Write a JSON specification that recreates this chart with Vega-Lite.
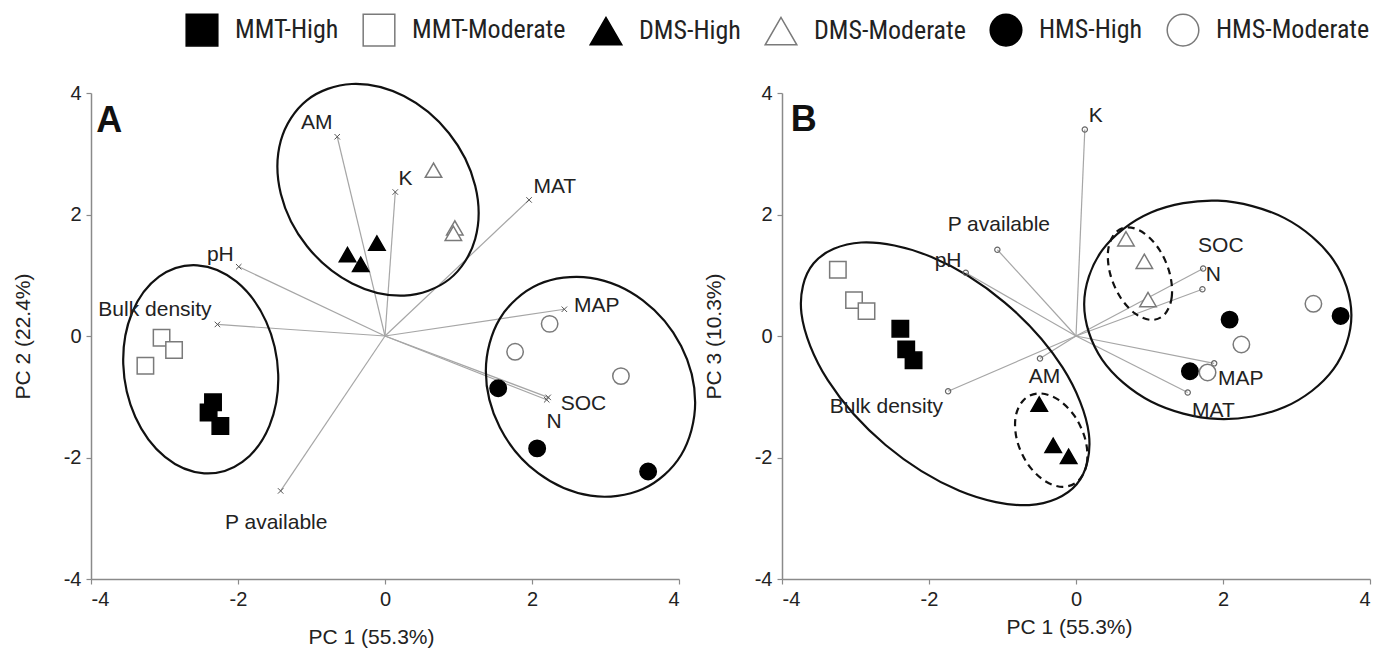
{
  "$schema": "https://vega.github.io/schema/vega-lite/v6.json",
  "background": "white",
  "padding": {"left": 12, "top": 13, "right": 5, "bottom": 5},
  "config": {
    "view": {"stroke": null},
    "font": "Liberation Sans",
    "axis": {
      "grid": false, "domainColor": "#8a8a8a", "domainWidth": 1.5, "tickColor": "#8a8a8a", "tickWidth": 1.2, "tickSize": 5,
      "labelFontSize": 20, "labelColor": "#222222", "labelPadding": 5, "labelFont": "Liberation Sans",
      "labelExpr": "toString(datum.value)",
      "titleFontSize": 21, "titleColor": "#222222", "titleFontWeight": "normal", "titleFont": "Liberation Sans"
    },
    "legend": {
      "orient": "none", "legendX": 94, "legendY": -80, "direction": "horizontal", "columns": 6,
      "symbolSize": 1000, "symbolStrokeWidth": 1.5, "labelFont": "Roboto Condensed", "labelFontSize": 26,
      "labelColor": "#222222", "labelOffset": 16, "columnPadding": 21, "labelLimit": 400
    }
  },
  "datasets": {
    "points": [
      {"panel":"A","group":"MMT-High","x":-2.34,"y":-1.09},
      {"panel":"A","group":"MMT-High","x":-2.40,"y":-1.26},
      {"panel":"A","group":"MMT-High","x":-2.24,"y":-1.48},
      {"panel":"A","group":"MMT-Moderate","x":-3.04,"y":-0.03},
      {"panel":"A","group":"MMT-Moderate","x":-2.87,"y":-0.23},
      {"panel":"A","group":"MMT-Moderate","x":-3.26,"y":-0.49},
      {"panel":"A","group":"DMS-High","x":-0.51,"y":1.34},
      {"panel":"A","group":"DMS-High","x":-0.33,"y":1.18},
      {"panel":"A","group":"DMS-High","x":-0.11,"y":1.53},
      {"panel":"A","group":"DMS-Moderate","x":0.66,"y":2.73},
      {"panel":"A","group":"DMS-Moderate","x":0.95,"y":1.78},
      {"panel":"A","group":"DMS-Moderate","x":0.93,"y":1.69},
      {"panel":"A","group":"HMS-High","x":1.54,"y":-0.86},
      {"panel":"A","group":"HMS-High","x":2.07,"y":-1.85},
      {"panel":"A","group":"HMS-High","x":3.58,"y":-2.23},
      {"panel":"A","group":"HMS-Moderate","x":2.24,"y":0.20},
      {"panel":"A","group":"HMS-Moderate","x":1.77,"y":-0.26},
      {"panel":"A","group":"HMS-Moderate","x":3.21,"y":-0.66},
      {"panel":"B","group":"MMT-High","x":-2.39,"y":0.12},
      {"panel":"B","group":"MMT-High","x":-2.31,"y":-0.22},
      {"panel":"B","group":"MMT-High","x":-2.21,"y":-0.40},
      {"panel":"B","group":"MMT-Moderate","x":-3.24,"y":1.09},
      {"panel":"B","group":"MMT-Moderate","x":-3.02,"y":0.59},
      {"panel":"B","group":"MMT-Moderate","x":-2.85,"y":0.41},
      {"panel":"B","group":"DMS-High","x":-0.50,"y":-1.12},
      {"panel":"B","group":"DMS-High","x":-0.31,"y":-1.80},
      {"panel":"B","group":"DMS-High","x":-0.10,"y":-1.98},
      {"panel":"B","group":"DMS-Moderate","x":0.68,"y":1.60},
      {"panel":"B","group":"DMS-Moderate","x":0.93,"y":1.23},
      {"panel":"B","group":"DMS-Moderate","x":0.98,"y":0.60},
      {"panel":"B","group":"HMS-High","x":2.09,"y":0.27},
      {"panel":"B","group":"HMS-High","x":3.60,"y":0.33},
      {"panel":"B","group":"HMS-High","x":1.55,"y":-0.58},
      {"panel":"B","group":"HMS-Moderate","x":3.23,"y":0.53},
      {"panel":"B","group":"HMS-Moderate","x":2.25,"y":-0.14},
      {"panel":"B","group":"HMS-Moderate","x":1.79,"y":-0.60}
    ],
    "vectors": [
      {"panel":"A","var":"AM","x":-0.65,"y":3.28},
      {"panel":"A","var":"K","x":0.14,"y":2.37},
      {"panel":"A","var":"MAT","x":1.96,"y":2.24},
      {"panel":"A","var":"MAP","x":2.44,"y":0.44},
      {"panel":"A","var":"SOC","x":2.22,"y":-1.01},
      {"panel":"A","var":"N","x":2.20,"y":-1.05},
      {"panel":"A","var":"P available","x":-1.42,"y":-2.55},
      {"panel":"A","var":"Bulk density","x":-2.28,"y":0.19},
      {"panel":"A","var":"pH","x":-1.99,"y":1.14},
      {"panel":"B","var":"K","x":0.12,"y":3.40},
      {"panel":"B","var":"P available","x":-1.07,"y":1.42},
      {"panel":"B","var":"pH","x":-1.50,"y":1.04},
      {"panel":"B","var":"AM","x":-0.49,"y":-0.37},
      {"panel":"B","var":"Bulk density","x":-1.74,"y":-0.91},
      {"panel":"B","var":"N","x":1.73,"y":1.11},
      {"panel":"B","var":"SOC","x":1.72,"y":0.77},
      {"panel":"B","var":"MAP","x":1.88,"y":-0.45},
      {"panel":"B","var":"MAT","x":1.52,"y":-0.93}
    ],
    "labels": [
      {"panel":"A","kind":"var","text":"AM","x":-0.93,"y":3.40},
      {"panel":"A","kind":"var","text":"K","x":0.28,"y":2.49},
      {"panel":"A","kind":"var","text":"pH","x":-2.24,"y":1.23},
      {"panel":"A","kind":"var","text":"Bulk density","x":-3.13,"y":0.33},
      {"panel":"A","kind":"var","text":"MAT","x":2.31,"y":2.36},
      {"panel":"A","kind":"var","text":"MAP","x":2.88,"y":0.40},
      {"panel":"A","kind":"var","text":"SOC","x":2.70,"y":-1.22},
      {"panel":"A","kind":"var","text":"N","x":2.30,"y":-1.52},
      {"panel":"A","kind":"var","text":"P available","x":-1.48,"y":-3.17},
      {"panel":"A","kind":"letter","text":"A","x":-3.93,"y":3.35},
      {"panel":"B","kind":"var","text":"K","x":0.27,"y":3.52},
      {"panel":"B","kind":"var","text":"P available","x":-1.05,"y":1.73},
      {"panel":"B","kind":"var","text":"pH","x":-1.74,"y":1.13},
      {"panel":"B","kind":"var","text":"AM","x":-0.43,"y":-0.77},
      {"panel":"B","kind":"var","text":"Bulk density","x":-2.58,"y":-1.27},
      {"panel":"B","kind":"var","text":"SOC","x":1.97,"y":1.39},
      {"panel":"B","kind":"var","text":"N","x":1.87,"y":0.91},
      {"panel":"B","kind":"var","text":"MAP","x":2.24,"y":-0.81},
      {"panel":"B","kind":"var","text":"MAT","x":1.87,"y":-1.33},
      {"panel":"B","kind":"letter","text":"B","x":-3.88,"y":3.37}
    ],
    "ellipses": [
      {"panel":"A","id":"A1","kind":"solid","i":0,"x":-1.453,"y":-0.630},
      {"panel":"A","id":"A1","kind":"solid","i":1,"x":-1.571,"y":-1.475},
      {"panel":"A","id":"A1","kind":"solid","i":2,"x":-1.940,"y":-2.072},
      {"panel":"A","id":"A1","kind":"solid","i":3,"x":-2.461,"y":-2.260},
      {"panel":"A","id":"A1","kind":"solid","i":4,"x":-2.994,"y":-1.990},
      {"panel":"A","id":"A1","kind":"solid","i":5,"x":-3.397,"y":-1.333},
      {"panel":"A","id":"A1","kind":"solid","i":6,"x":-3.561,"y":-0.466},
      {"panel":"A","id":"A1","kind":"solid","i":7,"x":-3.443,"y":0.379},
      {"panel":"A","id":"A1","kind":"solid","i":8,"x":-3.074,"y":0.976},
      {"panel":"A","id":"A1","kind":"solid","i":9,"x":-2.553,"y":1.164},
      {"panel":"A","id":"A1","kind":"solid","i":10,"x":-2.020,"y":0.894},
      {"panel":"A","id":"A1","kind":"solid","i":11,"x":-1.617,"y":0.237},
      {"panel":"A","id":"A2","kind":"solid","i":0,"x":0.874,"y":0.934},
      {"panel":"A","id":"A2","kind":"solid","i":1,"x":0.261,"y":0.666},
      {"panel":"A","id":"A2","kind":"solid","i":2,"x":-0.447,"y":0.865},
      {"panel":"A","id":"A2","kind":"solid","i":3,"x":-1.061,"y":1.477},
      {"panel":"A","id":"A2","kind":"solid","i":4,"x":-1.417,"y":2.339},
      {"panel":"A","id":"A2","kind":"solid","i":5,"x":-1.417,"y":3.218},
      {"panel":"A","id":"A2","kind":"solid","i":6,"x":-1.064,"y":3.880},
      {"panel":"A","id":"A2","kind":"solid","i":7,"x":-0.451,"y":4.148},
      {"panel":"A","id":"A2","kind":"solid","i":8,"x":0.257,"y":3.949},
      {"panel":"A","id":"A2","kind":"solid","i":9,"x":0.871,"y":3.337},
      {"panel":"A","id":"A2","kind":"solid","i":10,"x":1.227,"y":2.475},
      {"panel":"A","id":"A2","kind":"solid","i":11,"x":1.227,"y":1.596},
      {"panel":"A","id":"A3","kind":"solid","i":0,"x":4.220,"y":-1.096},
      {"panel":"A","id":"A3","kind":"solid","i":1,"x":4.029,"y":-1.958},
      {"panel":"A","id":"A3","kind":"solid","i":2,"x":3.508,"y":-2.519},
      {"panel":"A","id":"A3","kind":"solid","i":3,"x":2.796,"y":-2.629},
      {"panel":"A","id":"A3","kind":"solid","i":4,"x":2.084,"y":-2.259},
      {"panel":"A","id":"A3","kind":"solid","i":5,"x":1.563,"y":-1.508},
      {"panel":"A","id":"A3","kind":"solid","i":6,"x":1.372,"y":-0.576},
      {"panel":"A","id":"A3","kind":"solid","i":7,"x":1.563,"y":0.286},
      {"panel":"A","id":"A3","kind":"solid","i":8,"x":2.084,"y":0.847},
      {"panel":"A","id":"A3","kind":"solid","i":9,"x":2.796,"y":0.957},
      {"panel":"A","id":"A3","kind":"solid","i":10,"x":3.508,"y":0.587},
      {"panel":"A","id":"A3","kind":"solid","i":11,"x":4.029,"y":-0.164},
      {"panel":"B","id":"B1","kind":"solid","i":0,"x":0.009,"y":-2.441},
      {"panel":"B","id":"B1","kind":"solid","i":1,"x":-0.637,"y":-2.783},
      {"panel":"B","id":"B1","kind":"solid","i":2,"x":-1.587,"y":-2.547},
      {"panel":"B","id":"B1","kind":"solid","i":3,"x":-2.591,"y":-1.794},
      {"panel":"B","id":"B1","kind":"solid","i":4,"x":-3.377,"y":-0.727},
      {"panel":"B","id":"B1","kind":"solid","i":5,"x":-3.735,"y":0.367},
      {"panel":"B","id":"B1","kind":"solid","i":6,"x":-3.569,"y":1.197},
      {"panel":"B","id":"B1","kind":"solid","i":7,"x":-2.923,"y":1.539},
      {"panel":"B","id":"B1","kind":"solid","i":8,"x":-1.973,"y":1.303},
      {"panel":"B","id":"B1","kind":"solid","i":9,"x":-0.969,"y":0.550},
      {"panel":"B","id":"B1","kind":"solid","i":10,"x":-0.183,"y":-0.517},
      {"panel":"B","id":"B1","kind":"solid","i":11,"x":0.175,"y":-1.611},
      {"panel":"B","id":"B2","kind":"solid","i":0,"x":3.747,"y":0.340},
      {"panel":"B","id":"B2","kind":"solid","i":1,"x":3.503,"y":-0.546},
      {"panel":"B","id":"B2","kind":"solid","i":2,"x":2.838,"y":-1.170},
      {"panel":"B","id":"B2","kind":"solid","i":3,"x":1.929,"y":-1.365},
      {"panel":"B","id":"B2","kind":"solid","i":4,"x":1.020,"y":-1.078},
      {"panel":"B","id":"B2","kind":"solid","i":5,"x":0.355,"y":-0.388},
      {"panel":"B","id":"B2","kind":"solid","i":6,"x":0.111,"y":0.522},
      {"panel":"B","id":"B2","kind":"solid","i":7,"x":0.355,"y":1.408},
      {"panel":"B","id":"B2","kind":"solid","i":8,"x":1.020,"y":2.032},
      {"panel":"B","id":"B2","kind":"solid","i":9,"x":1.929,"y":2.227},
      {"panel":"B","id":"B2","kind":"solid","i":10,"x":2.838,"y":1.940},
      {"panel":"B","id":"B2","kind":"solid","i":11,"x":3.503,"y":1.250},
      {"panel":"B","id":"B3","kind":"dashed","i":0,"x":1.276,"y":1.027},
      {"panel":"B","id":"B3","kind":"dashed","i":1,"x":1.303,"y":0.646},
      {"panel":"B","id":"B3","kind":"dashed","i":2,"x":1.213,"y":0.367},
      {"panel":"B","id":"B3","kind":"dashed","i":3,"x":1.032,"y":0.265},
      {"panel":"B","id":"B3","kind":"dashed","i":4,"x":0.807,"y":0.367},
      {"panel":"B","id":"B3","kind":"dashed","i":5,"x":0.599,"y":0.646},
      {"panel":"B","id":"B3","kind":"dashed","i":6,"x":0.464,"y":1.027},
      {"panel":"B","id":"B3","kind":"dashed","i":7,"x":0.437,"y":1.408},
      {"panel":"B","id":"B3","kind":"dashed","i":8,"x":0.527,"y":1.687},
      {"panel":"B","id":"B3","kind":"dashed","i":9,"x":0.708,"y":1.789},
      {"panel":"B","id":"B3","kind":"dashed","i":10,"x":0.933,"y":1.687},
      {"panel":"B","id":"B3","kind":"dashed","i":11,"x":1.141,"y":1.408},
      {"panel":"B","id":"B4","kind":"dashed","i":0,"x":0.129,"y":-1.714},
      {"panel":"B","id":"B4","kind":"dashed","i":1,"x":0.147,"y":-2.099},
      {"panel":"B","id":"B4","kind":"dashed","i":2,"x":0.034,"y":-2.380},
      {"panel":"B","id":"B4","kind":"dashed","i":3,"x":-0.178,"y":-2.483},
      {"panel":"B","id":"B4","kind":"dashed","i":4,"x":-0.432,"y":-2.380},
      {"panel":"B","id":"B4","kind":"dashed","i":5,"x":-0.661,"y":-2.099},
      {"panel":"B","id":"B4","kind":"dashed","i":6,"x":-0.803,"y":-1.714},
      {"panel":"B","id":"B4","kind":"dashed","i":7,"x":-0.821,"y":-1.329},
      {"panel":"B","id":"B4","kind":"dashed","i":8,"x":-0.708,"y":-1.048},
      {"panel":"B","id":"B4","kind":"dashed","i":9,"x":-0.496,"y":-0.945},
      {"panel":"B","id":"B4","kind":"dashed","i":10,"x":-0.242,"y":-1.048},
      {"panel":"B","id":"B4","kind":"dashed","i":11,"x":-0.013,"y":-1.329}
    ]
  },
  "bounds": "flush",
  "spacing": 103,
  "hconcat": [
    {
      "width": 588, "height": 486,
      "encoding": {
        "x": {"field": "x", "type": "quantitative", "scale": {"domain": [-4, 4], "nice": false, "zero": false},
              "axis": {"values": [-4, -2, 0, 2, 4], "title": "PC 1 (55.3%)", "titlePadding": 17, "titleX": 280}},
        "y": {"field": "y", "type": "quantitative", "scale": {"domain": [-4, 4], "nice": false, "zero": false},
              "axis": {"values": [-4, -2, 0, 2, 4], "title": "PC 2 (22.4%)", "titlePadding": 30}}
      },
      "layer": [
        {"data": {"name": "vectors"}, "transform": [{"filter": "datum.panel == 'A'"}],
         "mark": {"type": "rule", "color": "#a6a6a6", "strokeWidth": 1.2},
         "encoding": {"x2": {"datum": 0}, "y2": {"datum": 0}}},
        {"data": {"name": "ellipses"}, "transform": [{"filter": "datum.panel == 'A'"}],
         "mark": {"type": "line", "interpolate": "cardinal-closed", "color": "#111111", "strokeWidth": 2.2},
         "encoding": {"detail": {"field": "id"}, "order": {"field": "i", "type": "quantitative"}}},
        {"data": {"name": "vectors"}, "transform": [{"filter": "datum.panel == 'A'"}],
         "mark": {"type": "point", "shape": "M-1,-1L1,1M-1,1L1,-1", "size": 30, "filled": false, "color": "#555555", "strokeWidth": 1, "opacity": 1}},
        {"data": {"name": "points"}, "transform": [{"filter": "datum.panel == 'A'"}],
         "mark": {"type": "point", "filled": true, "size": 270, "opacity": 1, "strokeWidth": 1.5},
         "encoding": {
           "shape": {"field": "group", "type": "nominal", "title": null,
                     "scale": {"domain": ["MMT-High","MMT-Moderate","DMS-High","DMS-Moderate","HMS-High","HMS-Moderate"],
                               "range": ["square","square","triangle-up","triangle-up","circle","circle"]}},
           "fill": {"field": "group", "type": "nominal", "title": null,
                    "scale": {"domain": ["MMT-High","MMT-Moderate","DMS-High","DMS-Moderate","HMS-High","HMS-Moderate"],
                              "range": ["#000000","#ffffff","#000000","#ffffff","#000000","#ffffff"]}},
           "stroke": {"field": "group", "type": "nominal", "title": null,
                      "scale": {"domain": ["MMT-High","MMT-Moderate","DMS-High","DMS-Moderate","HMS-High","HMS-Moderate"],
                                "range": ["#000000","#7a7a7a","#000000","#7a7a7a","#000000","#7a7a7a"]}}
         }},
        {"data": {"name": "labels"}, "transform": [{"filter": "datum.panel == 'A' && datum.kind == 'var'"}],
         "mark": {"type": "text", "fontSize": 21, "color": "#222222", "align": "center", "baseline": "alphabetic", "font": "Liberation Sans"},
         "encoding": {"text": {"field": "text"}}},
        {"data": {"name": "labels"}, "transform": [{"filter": "datum.panel == 'A' && datum.kind == 'letter'"}],
         "mark": {"type": "text", "fontSize": 36, "fontWeight": "bold", "color": "#111111", "align": "left", "baseline": "alphabetic", "font": "Liberation Sans"},
         "encoding": {"text": {"field": "text"}}}
      ]
    },
    {
      "width": 588, "height": 486,
      "encoding": {
        "x": {"field": "x", "type": "quantitative", "scale": {"domain": [-4, 4], "nice": false, "zero": false},
              "axis": {"values": [-4, -2, 0, 2, 4], "title": "PC 1 (55.3%)", "titlePadding": 7, "titleX": 287}},
        "y": {"field": "y", "type": "quantitative", "scale": {"domain": [-4, 4], "nice": false, "zero": false},
              "axis": {"values": [-4, -2, 0, 2, 4], "title": "PC 3 (10.3%)", "titlePadding": 30}}
      },
      "layer": [
        {"data": {"name": "vectors"}, "transform": [{"filter": "datum.panel == 'B'"}],
         "mark": {"type": "rule", "color": "#a6a6a6", "strokeWidth": 1.2},
         "encoding": {"x2": {"datum": 0}, "y2": {"datum": 0}}},
        {"data": {"name": "ellipses"}, "transform": [{"filter": "datum.panel == 'B' && datum.kind == 'solid'"}],
         "mark": {"type": "line", "interpolate": "cardinal-closed", "color": "#111111", "strokeWidth": 2.2},
         "encoding": {"detail": {"field": "id"}, "order": {"field": "i", "type": "quantitative"}}},
        {"data": {"name": "ellipses"}, "transform": [{"filter": "datum.panel == 'B' && datum.kind == 'dashed'"}],
         "mark": {"type": "line", "interpolate": "cardinal-closed", "color": "#111111", "strokeWidth": 2.2, "strokeDash": [7, 5]},
         "encoding": {"detail": {"field": "id"}, "order": {"field": "i", "type": "quantitative"}}},
        {"data": {"name": "vectors"}, "transform": [{"filter": "datum.panel == 'B'"}],
         "mark": {"type": "point", "shape": "circle", "size": 28, "filled": false, "color": "#666666", "strokeWidth": 1.2, "opacity": 1}},
        {"data": {"name": "points"}, "transform": [{"filter": "datum.panel == 'B'"}],
         "mark": {"type": "point", "filled": true, "size": 270, "opacity": 1, "strokeWidth": 1.5},
         "encoding": {
           "shape": {"field": "group", "type": "nominal", "title": null,
                     "scale": {"domain": ["MMT-High","MMT-Moderate","DMS-High","DMS-Moderate","HMS-High","HMS-Moderate"],
                               "range": ["square","square","triangle-up","triangle-up","circle","circle"]}},
           "fill": {"field": "group", "type": "nominal", "title": null,
                    "scale": {"domain": ["MMT-High","MMT-Moderate","DMS-High","DMS-Moderate","HMS-High","HMS-Moderate"],
                              "range": ["#000000","#ffffff","#000000","#ffffff","#000000","#ffffff"]}},
           "stroke": {"field": "group", "type": "nominal", "title": null,
                      "scale": {"domain": ["MMT-High","MMT-Moderate","DMS-High","DMS-Moderate","HMS-High","HMS-Moderate"],
                                "range": ["#000000","#7a7a7a","#000000","#7a7a7a","#000000","#7a7a7a"]}}
         }},
        {"data": {"name": "labels"}, "transform": [{"filter": "datum.panel == 'B' && datum.kind == 'var'"}],
         "mark": {"type": "text", "fontSize": 21, "color": "#222222", "align": "center", "baseline": "alphabetic", "font": "Liberation Sans"},
         "encoding": {"text": {"field": "text"}}},
        {"data": {"name": "labels"}, "transform": [{"filter": "datum.panel == 'B' && datum.kind == 'letter'"}],
         "mark": {"type": "text", "fontSize": 36, "fontWeight": "bold", "color": "#111111", "align": "left", "baseline": "alphabetic", "font": "Liberation Sans"},
         "encoding": {"text": {"field": "text"}}}
      ]
    }
  ],
  "resolve": {"scale": {"shape": "shared", "fill": "shared", "stroke": "shared"}}
}
